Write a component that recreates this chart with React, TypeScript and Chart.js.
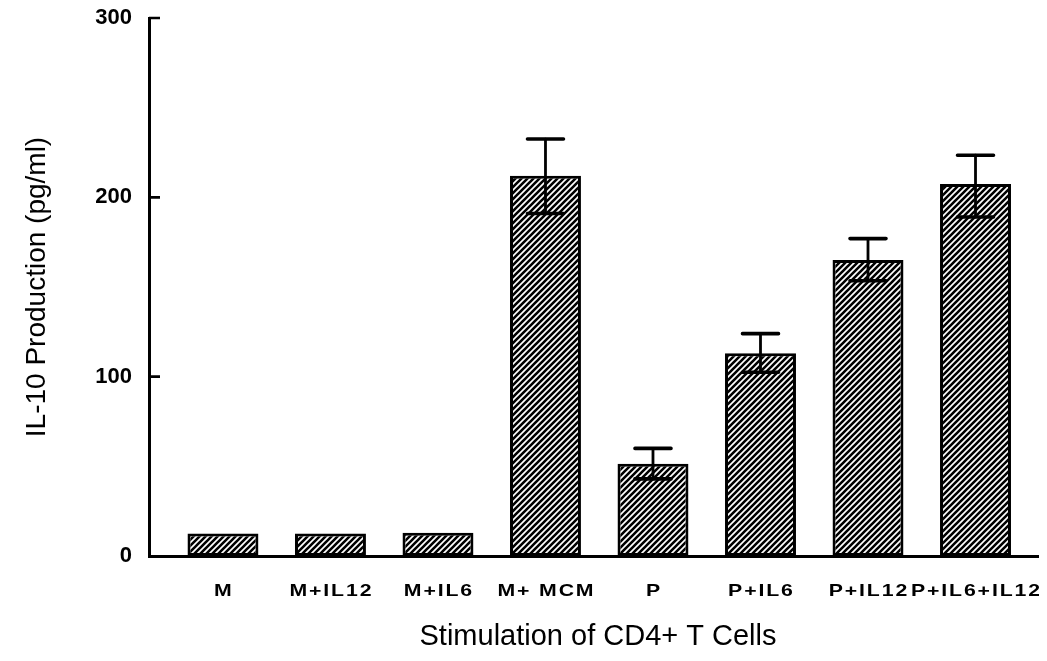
import React, { useEffect, useRef } from 'react';
import { Chart, registerables } from 'chart.js';

Chart.register(...registerables);

const categories = ['M', 'M+IL12', 'M+IL6', 'M+ MCM', 'P', 'P+IL6', 'P+IL12', 'P+IL6+IL12'];
const values = [12.5, 12.5, 13, 212, 51.5, 113, 165, 207.5];
const errHigh: (number | null)[] = [null, null, null, 232.5, 60, 124, 177, 223.5];
const errLow: (number | null)[] = [null, null, null, 191, 43, 102.5, 153.5, 189];
const yTicks = [0, 100, 200, 300];

const FONT = '"Liberation Sans", Arial, Helvetica, sans-serif';
const W = 1039;
const H = 645;

function makePattern(): CanvasPattern | string {
  const s = 6;
  const c = document.createElement('canvas');
  c.width = s;
  c.height = s;
  const g = c.getContext('2d');
  if (!g) return '#666';
  g.fillStyle = '#fff';
  g.fillRect(0, 0, s, s);
  g.strokeStyle = '#000';
  g.lineWidth = 2.6;
  g.beginPath();
  g.moveTo(-1, 1);
  g.lineTo(1, -1);
  g.moveTo(0, s);
  g.lineTo(s, 0);
  g.moveTo(s - 1, s + 1);
  g.lineTo(s + 1, s - 1);
  g.stroke();
  return g.createPattern(c, 'repeat') || '#666';
}

const errorBarPlugin = {
  id: 'errorBars',
  afterDatasetsDraw(chart: any) {
    const ctx = chart.ctx as CanvasRenderingContext2D;
    const meta = chart.getDatasetMeta(0);
    const ys = chart.scales.y;
    ctx.save();
    ctx.strokeStyle = '#000';
    ctx.lineCap = 'round';
    meta.data.forEach((bar: any, i: number) => {
      const hi = errHigh[i];
      const lo = errLow[i];
      if (hi == null || lo == null) return;
      const x = bar.x;
      const yHi = ys.getPixelForValue(hi);
      const yLo = ys.getPixelForValue(lo);
      ctx.lineWidth = 2.8;
      ctx.beginPath();
      ctx.moveTo(x, yHi);
      ctx.lineTo(x, yLo);
      ctx.stroke();
      ctx.lineWidth = 3.6;
      ctx.beginPath();
      ctx.moveTo(x - 18, yHi);
      ctx.lineTo(x + 18, yHi);
      ctx.moveTo(x - 18, yLo);
      ctx.lineTo(x + 18, yLo);
      ctx.stroke();
    });
    ctx.restore();
  },
};

const axisDecorPlugin = {
  id: 'axisDecor',
  afterDraw(chart: any) {
    const ctx = chart.ctx as CanvasRenderingContext2D;
    const xs = chart.scales.x;
    const ys = chart.scales.y;
    const area = chart.chartArea;
    ctx.save();
    // inward y ticks
    ctx.strokeStyle = '#000';
    ctx.lineWidth = 2.6;
    ctx.beginPath();
    yTicks.forEach((v) => {
      if (v === 0) return;
      const y = ys.getPixelForValue(v);
      ctx.moveTo(area.left, y);
      ctx.lineTo(area.left + 11, y);
    });
    ctx.stroke();
    // category labels (wide, heavy lettering as in the original figure)
    ctx.fillStyle = '#000';
    ctx.font = 'bold 17px ' + FONT;
    ctx.textBaseline = 'middle';
    ctx.textAlign = 'left';
    const sx = 1.25;
    const ls = 1.5;
    categories.forEach((label, i) => {
      (ctx as any).letterSpacing = '0px';
      const w0 = ctx.measureText(label).width;
      const total = (w0 + ls * (label.length - 1)) * sx;
      const x = xs.getPixelForValue(i);
      ctx.save();
      ctx.translate(x - total / 2, 583);
      ctx.scale(sx, 1);
      (ctx as any).letterSpacing = ls + 'px';
      ctx.fillText(label, 0, 0);
      ctx.restore();
    });
    (ctx as any).letterSpacing = '0px';
    ctx.restore();
  },
};

export default function App() {
  const ref = useRef<HTMLCanvasElement | null>(null);

  useEffect(() => {
    if (!ref.current) return;
    const pattern = makePattern();
    const chart = new Chart(ref.current, {
      type: 'bar',
      data: {
        datasets: [
          {
            data: categories.map((_, i) => ({ x: i, y: values[i] })),
            backgroundColor: pattern as any,
            borderColor: '#000',
            borderWidth: 3,
            borderSkipped: false,
            barPercentage: 0.66,
            categoryPercentage: 1,
          },
        ],
      },
      options: {
        animation: false,
        responsive: false,
        maintainAspectRatio: false,
        layout: { padding: { top: 10, left: 0, right: 0, bottom: 0 } },
        plugins: { legend: { display: false }, tooltip: { enabled: false } },
        scales: {
          x: {
            type: 'linear',
            min: -0.688,
            max: 7.665,
            offset: false,
            afterBuildTicks: (s: any) => {
              s.ticks = categories.map((_, i) => ({ value: i }));
            },
            grid: { display: false, drawTicks: false },
            border: { display: true, color: '#000', width: 3 },
            ticks: { display: false },
            title: {
              display: true,
              text: 'Stimulation of CD4+ T Cells',
              color: '#000',
              font: { family: FONT, size: 29, weight: 'normal', lineHeight: 1.0 },
              padding: { top: 0, bottom: 2 },
            },
            afterFit: (s: any) => {
              s.height = 97;
              s.paddingLeft = 0;
              s.paddingRight = 0;
            },
          },
          y: {
            min: 0,
            max: 300,
            afterBuildTicks: (s: any) => {
              s.ticks = yTicks.map((v) => ({ value: v }));
            },
            grid: { display: false, drawTicks: false },
            border: { display: true, color: '#000', width: 3 },
            ticks: {
              padding: 17,
              color: '#000',
              font: { family: FONT, size: 22, weight: 'bold', lineHeight: 0.8 },
            },
            title: {
              display: true,
              text: 'IL-10 Production (pg/ml)',
              color: '#000',
              font: { family: FONT, size: 28, weight: 'normal', lineHeight: 1.0 },
              padding: { top: 15, bottom: 0 },
            },
            afterFit: (s: any) => {
              s.width = 141;
              s.paddingTop = 0;
              s.paddingBottom = 0;
            },
          },
        },
      } as any,
      plugins: [errorBarPlugin, axisDecorPlugin],
    });
    return () => chart.destroy();
  }, []);

  return (
    <div style={{ width: W, height: H }}>
      <canvas ref={ref} width={W} height={H} style={{ display: 'block', width: W, height: H }} />
    </div>
  );
}
